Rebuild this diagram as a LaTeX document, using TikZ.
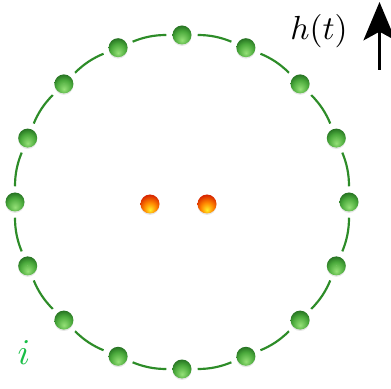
\documentclass[tikz,border=0pt]{standalone}
\usepackage{amsmath,amssymb}
\usepackage{xcolor}
\usepackage{tikz}
\usetikzlibrary{arrows.meta,positioning,calc,shadows}
\definecolor{beadlight}{RGB}{150,225,120}
\definecolor{beadmid}{RGB}{75,170,60}
\definecolor{beaddark}{RGB}{25,95,25}
\definecolor{ringgreen}{RGB}{45,140,40}
\definecolor{labelgreen}{RGB}{25,190,70}
\definecolor{coreyellow}{RGB}{255,240,40}
\definecolor{coreorange}{RGB}{255,135,0}
\definecolor{corered}{RGB}{215,35,0}
\pgfdeclareradialshading{greenglow}{\pgfpoint{0bp}{-14bp}}{color(0bp)=(beadlight); color(20bp)=(beadmid); color(36bp)=(beaddark); color(60bp)=(beaddark)}
\pgfdeclareradialshading{redglow}{\pgfpoint{0bp}{-16bp}}{color(0bp)=(coreyellow); color(16bp)=(coreorange); color(32bp)=(corered); color(60bp)=(corered)}
\tikzset{
  bead/.style={circle, minimum size=0.57cm, inner sep=0pt,
    drop shadow={opacity=0.2, shadow xshift=0pt, shadow yshift=-1.2pt},
    path picture={\fill[white, opacity=0.6] ($(path picture bounding box.center)+(0,0.15)$) ellipse (0.13 and 0.065);}},
  greenbead/.style={bead, shading=greenglow},
  redbead/.style={bead, shading=redglow},
  beadline/.style={ringgreen, line width=0.065cm, shorten >=0.18cm, shorten <=0.18cm}
}

\begin{document}
\begin{tikzpicture}[x=0.03cm, y=0.03cm]
  \useasboundingbox (0,0) rectangle (391,388);
  \coordinate (ctr) at (182,186);
  % ring of beads
  \foreach \k in {0,...,15}
    \node[greenbead] (g\k) at ($(ctr)+(90+22.5*\k:167)$) {};
  \foreach \k [evaluate=\k as \n using {int(mod(\k+1,16))}] in {0,...,15}
    \draw[beadline] (g\k) to[bend right=11.25] (g\n);
  % two central beads
  \node[redbead] (r1) at (150,184) {};
  \node[redbead] (r2) at (207,184) {};
  % labels
  \node[scale=2.85] (field) at (319,357) {$h(t)$};
  \coordinate (arrbase) at (379.5,318);
  \coordinate (arrtip) at (379.5,386);
  \draw[-{Stealth[length=11.5mm, width=9.6mm, inset=2.6mm]}, line width=0.08cm] (arrbase) -- (arrtip);
  \node[scale=3.1, text=labelgreen] (site) at (24,35) {$i$};
\end{tikzpicture}
\end{document}
